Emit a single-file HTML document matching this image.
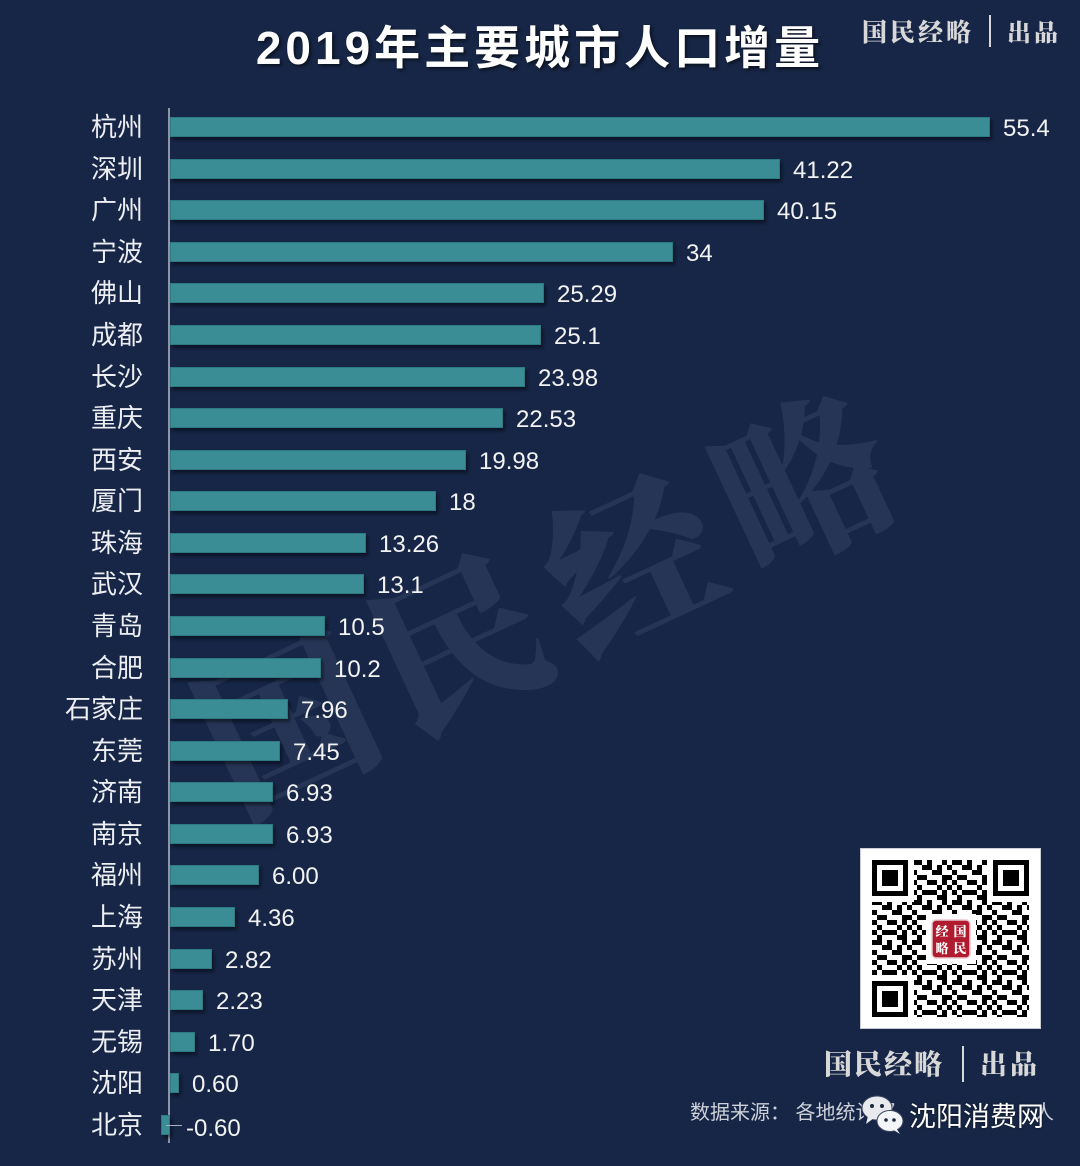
<!DOCTYPE html>
<html><head><meta charset="utf-8">
<style>
*{margin:0;padding:0;box-sizing:border-box}
html,body{width:1080px;height:1166px;overflow:hidden;background:#172646}
body{position:relative;font-family:"Liberation Sans","Noto Sans CJK SC",sans-serif;color:#eef0f3}
.title{position:absolute;left:0;width:1080px;top:20px;text-align:center;font-size:46px;font-weight:bold;letter-spacing:4px;color:#fff;line-height:56px;text-shadow:2px 2px 3px rgba(0,0,0,.55)}
.sig{position:absolute;font-family:"Noto Serif CJK SC","Liberation Serif",serif;font-weight:900;color:#d8d8d8;white-space:nowrap}
.axis{position:absolute;left:168px;top:108px;width:2px;height:1035px;background:#8e96a6}
.r{position:absolute;left:0;height:40px;width:1080px}
.c{position:absolute;right:937px;top:0;line-height:40px;font-size:26px;color:#eceef2;white-space:nowrap;font-family:"Liberation Sans","Noto Sans CJK SC",sans-serif}
.bw{position:absolute;left:170px;top:0;height:40px;display:flex;align-items:center}
.bw i{display:block;height:20px;background:#3b8d95;border:1px solid #2e7a82;box-shadow:2px 3px 3px rgba(0,0,0,.45)}
.bw b{font-weight:normal;font-size:24px;margin-left:13px;color:#f2f2f2;line-height:40px;padding-top:4px}
.wm{position:absolute;left:550px;top:590px;transform:translate(-50%,-50%) rotate(-25deg);font-family:"Noto Serif CJK SC",serif;font-weight:900;font-size:170px;letter-spacing:20px;color:rgba(200,215,240,0.09);white-space:nowrap;line-height:1}
</style></head><body>

<div class="wm">国民经略</div>

<div class="title">2019年主要城市人口增量</div>

<div class="sig" style="left:862px;top:13px;font-size:25px;letter-spacing:3px;line-height:36px">国民经略</div>
<div style="position:absolute;left:989px;top:15px;width:2px;height:32px;background:#d8d8d8"></div>
<div class="sig" style="left:1007px;top:13px;font-size:24px;letter-spacing:3px;line-height:36px">出品</div>

<div class="axis"></div>

<div class="r" style="top:107px"><span class="c">杭州</span><div class="bw"><i style="width:820px"></i><b>55.4</b></div></div>
<div class="r" style="top:148.6px"><span class="c">深圳</span><div class="bw"><i style="width:610px"></i><b>41.22</b></div></div>
<div class="r" style="top:190.2px"><span class="c">广州</span><div class="bw"><i style="width:594px"></i><b>40.15</b></div></div>
<div class="r" style="top:231.7px"><span class="c">宁波</span><div class="bw"><i style="width:503px"></i><b>34</b></div></div>
<div class="r" style="top:273.3px"><span class="c">佛山</span><div class="bw"><i style="width:374px"></i><b>25.29</b></div></div>
<div class="r" style="top:314.9px"><span class="c">成都</span><div class="bw"><i style="width:371px"></i><b>25.1</b></div></div>
<div class="r" style="top:356.5px"><span class="c">长沙</span><div class="bw"><i style="width:355px"></i><b>23.98</b></div></div>
<div class="r" style="top:398.1px"><span class="c">重庆</span><div class="bw"><i style="width:333px"></i><b>22.53</b></div></div>
<div class="r" style="top:439.6px"><span class="c">西安</span><div class="bw"><i style="width:296px"></i><b>19.98</b></div></div>
<div class="r" style="top:481.2px"><span class="c">厦门</span><div class="bw"><i style="width:266px"></i><b>18</b></div></div>
<div class="r" style="top:522.8px"><span class="c">珠海</span><div class="bw"><i style="width:196px"></i><b>13.26</b></div></div>
<div class="r" style="top:564.4px"><span class="c">武汉</span><div class="bw"><i style="width:194px"></i><b>13.1</b></div></div>
<div class="r" style="top:606px"><span class="c">青岛</span><div class="bw"><i style="width:155px"></i><b>10.5</b></div></div>
<div class="r" style="top:647.5px"><span class="c">合肥</span><div class="bw"><i style="width:151px"></i><b>10.2</b></div></div>
<div class="r" style="top:689.1px"><span class="c">石家庄</span><div class="bw"><i style="width:118px"></i><b>7.96</b></div></div>
<div class="r" style="top:730.7px"><span class="c">东莞</span><div class="bw"><i style="width:110px"></i><b>7.45</b></div></div>
<div class="r" style="top:772.3px"><span class="c">济南</span><div class="bw"><i style="width:103px"></i><b>6.93</b></div></div>
<div class="r" style="top:813.9px"><span class="c">南京</span><div class="bw"><i style="width:103px"></i><b>6.93</b></div></div>
<div class="r" style="top:855.4px"><span class="c">福州</span><div class="bw"><i style="width:89px"></i><b>6.00</b></div></div>
<div class="r" style="top:897px"><span class="c">上海</span><div class="bw"><i style="width:65px"></i><b>4.36</b></div></div>
<div class="r" style="top:938.6px"><span class="c">苏州</span><div class="bw"><i style="width:42px"></i><b>2.82</b></div></div>
<div class="r" style="top:980.2px"><span class="c">天津</span><div class="bw"><i style="width:33px"></i><b>2.23</b></div></div>
<div class="r" style="top:1021.7px"><span class="c">无锡</span><div class="bw"><i style="width:25px"></i><b>1.70</b></div></div>
<div class="r" style="top:1063.3px"><span class="c">沈阳</span><div class="bw"><i style="width:9px"></i><b>0.60</b></div></div>
<div class="r" style="top:1104.9px"><span class="c">北京</span>
  <div style="position:absolute;left:161px;top:10px;width:9px;height:20px;background:#3b8d95;border:1px solid #2e7a82;box-shadow:2px 3px 3px rgba(0,0,0,.45)"></div>
  <div style="position:absolute;left:166px;top:20px;width:16px;height:1px;background:#aab0bc"></div>
  <span style="position:absolute;left:186px;top:0;line-height:40px;padding-top:4px;font-size:24px;color:#f2f2f2">-0.60</span>
</div>

<!-- QR code -->
<div style="position:absolute;left:860px;top:848px;width:181px;height:181px;background:#fff;border:1px solid #c9ccd3"></div>
<svg style="position:absolute;left:872px;top:860px" width="157" height="157" viewBox="0 0 157 157">
<defs>
<pattern id="q" x="0" y="0" width="40" height="40" patternUnits="userSpaceOnUse">
<g fill="#000">
<rect x="0" y="0" width="10" height="5"/><rect x="15" y="0" width="5" height="5"/><rect x="30" y="0" width="5" height="5"/>
<rect x="10" y="5" width="10" height="5"/><rect x="25" y="5" width="5" height="5"/><rect x="35" y="5" width="5" height="5"/>
<rect x="0" y="10" width="5" height="5"/><rect x="20" y="10" width="10" height="5"/>
<rect x="5" y="15" width="10" height="5"/><rect x="30" y="15" width="10" height="5"/>
<rect x="0" y="20" width="5" height="5"/><rect x="15" y="20" width="10" height="5"/><rect x="30" y="20" width="5" height="5"/>
<rect x="5" y="25" width="5" height="5"/><rect x="25" y="25" width="5" height="5"/><rect x="35" y="25" width="5" height="5"/>
<rect x="0" y="30" width="5" height="5"/><rect x="10" y="30" width="15" height="5"/><rect x="30" y="30" width="5" height="5"/>
<rect x="5" y="35" width="5" height="5"/><rect x="25" y="35" width="10" height="5"/>
</g>
</pattern>
</defs>
<rect x="0" y="0" width="157" height="157" fill="url(#q)"/>
<g>
<rect x="0" y="0" width="42" height="42" fill="#fff"/>
<rect x="115" y="0" width="42" height="42" fill="#fff"/>
<rect x="0" y="115" width="42" height="42" fill="#fff"/>
<rect x="0" y="0" width="36" height="36" fill="#000"/><rect x="5" y="5" width="26" height="26" fill="#fff"/><rect x="10" y="10" width="16" height="16" fill="#000"/>
<rect x="121" y="0" width="36" height="36" fill="#000"/><rect x="126" y="5" width="26" height="26" fill="#fff"/><rect x="131" y="10" width="16" height="16" fill="#000"/>
<rect x="0" y="121" width="36" height="36" fill="#000"/><rect x="5" y="126" width="26" height="26" fill="#fff"/><rect x="10" y="131" width="16" height="16" fill="#000"/>
<rect x="54" y="54" width="50" height="50" fill="#fff"/>
<rect x="60" y="60" width="38" height="38" rx="4" fill="#b01b2f" stroke="#e8c9cd" stroke-width="1.5"/>
<text x="70" y="76" font-family="Noto Serif CJK SC,serif" font-weight="900" font-size="13" fill="#fff" text-anchor="middle">经</text>
<text x="88" y="76" font-family="Noto Serif CJK SC,serif" font-weight="900" font-size="13" fill="#fff" text-anchor="middle">国</text>
<text x="70" y="93" font-family="Noto Serif CJK SC,serif" font-weight="900" font-size="13" fill="#fff" text-anchor="middle">略</text>
<text x="88" y="93" font-family="Noto Serif CJK SC,serif" font-weight="900" font-size="13" fill="#fff" text-anchor="middle">民</text>
</g>
</svg>

<!-- bottom signature -->
<div class="sig" style="left:824px;top:1043px;font-size:28px;letter-spacing:2px;line-height:40px">国民经略</div>
<div style="position:absolute;left:962px;top:1046px;width:2px;height:36px;background:#d8d8d8"></div>
<div class="sig" style="left:980px;top:1043px;font-size:27px;letter-spacing:3px;line-height:40px">出品</div>

<!-- source -->
<div style="position:absolute;left:690px;top:1100px;font-size:20px;line-height:26px;color:#cdd1d9;white-space:nowrap">数据来源：&nbsp;各地统计部</div>
<div style="position:absolute;left:1034px;top:1100px;font-size:20px;line-height:26px;color:#cdd1d9;white-space:nowrap">人</div>

<!-- wechat overlay -->
<svg style="position:absolute;left:860px;top:1094px" width="48" height="42" viewBox="0 0 48 42">
<ellipse cx="17" cy="14" rx="15" ry="12" fill="#e9eaee" stroke="#3a4560" stroke-width="1"/>
<path d="M8 22 L6 30 L14 24 Z" fill="#e9eaee"/>
<circle cx="12" cy="12" r="2" fill="#1c2640"/><circle cx="22" cy="12" r="2" fill="#1c2640"/>
<ellipse cx="30" cy="27" rx="13" ry="10.5" fill="#f4f5f8" stroke="#3a4560" stroke-width="1"/>
<path d="M36 34 L40 40 L32 35 Z" fill="#f4f5f8"/>
<circle cx="26" cy="26" r="1.8" fill="#1c2640"/><circle cx="34" cy="26" r="1.8" fill="#1c2640"/>
</svg>
<div style="position:absolute;left:909px;top:1101px;font-size:27px;line-height:32px;color:#ffffff;white-space:nowrap;text-shadow:0 0 2px rgba(0,0,0,.6)">沈阳消费网</div>

</body></html>
